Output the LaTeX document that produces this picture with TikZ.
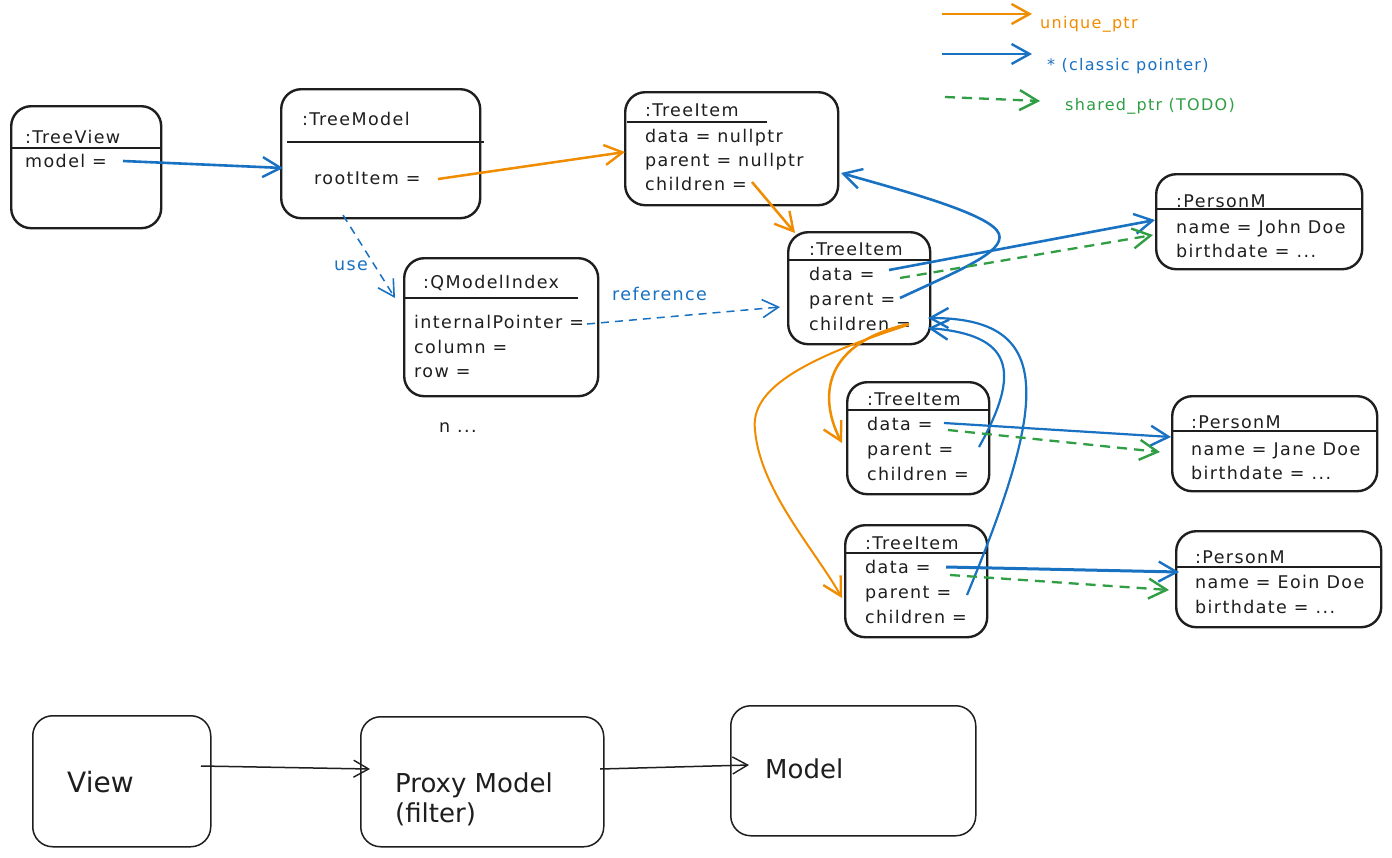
\documentclass[tikz,border=0pt]{standalone}
\usepackage{fontspec}
\usetikzlibrary{arrows.meta,calc}
\newfontfamily\hand[LetterSpace=8]{DejaVu Sans}
\newfontfamily\handbig{DejaVu Sans}
\definecolor{ink}{HTML}{1E1E1E}
\definecolor{ora}{HTML}{F08C00}
\definecolor{blu}{HTML}{1971C2}
\definecolor{grn}{HTML}{2F9E44}
\tikzset{
  box/.style={draw=ink, line width=2.4pt, rounded corners=20pt, anchor=north west, inner sep=0pt, fill=white},
  hdr/.style={draw=ink, line width=2.8pt},
  txt/.style={anchor=base west, inner sep=0pt, text=ink, font=\hand\fontsize{17.5}{20}\selectfont},
  big/.style={anchor=base west, inner sep=0pt, text=ink, font=\handbig\fontsize{26}{32}\selectfont, align=left},
  lgd/.style={anchor=base west, inner sep=0pt, font=\hand\fontsize{16}{20}\selectfont},
  tip/.style={-{Straight Barb[length=18pt,width=20pt,line width=2.4pt]}},
  orar/.style={tip, draw=ora, line width=2.5pt},
  bluar/.style={tip, draw=blu, line width=2.6pt},
  grnar/.style={tip, draw=grn, line width=2.3pt, dash pattern=on 10pt off 7pt},
  bludash/.style={-{Straight Barb[length=16pt,width=18pt,line width=1.6pt]}, draw=blu, line width=1.5pt, dash pattern=on 8pt off 6pt},
  thinar/.style={-{Straight Barb[length=15pt,width=17pt,line width=1.4pt]}, draw=ink, line width=1.5pt},
}
\begin{document}
\begin{tikzpicture}[x=1pt,y=-1pt]
\useasboundingbox[fill=white] (0,0) rectangle (1392,857);

% ---------- boxes ----------
\node[box, minimum width=150pt, minimum height=122pt] (tv) at (10,105) {};
\node[box, minimum width=199pt, minimum height=129pt] (tm) at (280,88) {};
\node[box, minimum width=213pt, minimum height=113pt] (r0) at (624,91) {};
\node[box, minimum width=142pt, minimum height=112pt] (mid) at (787,231) {};
\node[box, minimum width=206pt, minimum height=95pt] (pm1) at (1155,173) {};
\node[box, minimum width=194pt, minimum height=138pt] (qi) at (403,257) {};
\node[box, minimum width=142pt, minimum height=112pt] (c1) at (846,381) {};
\node[box, minimum width=205pt, minimum height=95pt] (pm2) at (1171,395) {};
\node[box, minimum width=142pt, minimum height=112pt] (c2) at (844,524) {};
\node[box, minimum width=205pt, minimum height=96pt] (pm3) at (1175,530) {};
\node[box, line width=1.5pt, minimum width=178pt, minimum height=131pt] (view) at (32,715) {};
\node[box, line width=1.5pt, minimum width=243pt, minimum height=130pt] (proxy) at (360,716) {};
\node[box, line width=1.5pt, minimum width=245pt, minimum height=130pt] (model) at (730,705) {};

% ---------- header lines ----------
\draw[hdr] ($(tv.north west)+(0,43)$) -- ($(tv.north east)+(0,43)$);
\draw[hdr] ($(tm.north west)+(7,54)$) -- ($(tm.north east)+(3,54)$);
\draw[hdr] ($(r0.north west)+(3,31)$) -- ($(r0.north west)+(143,31)$);
\draw[hdr] ($(mid.north west)+(0,29)$) -- ($(mid.north east)+(0,29)$);
\draw[hdr] ($(pm1.north west)+(0,36)$) -- ($(pm1.north east)+(0,36)$);
\draw[hdr] ($(qi.north west)+(0,41)$) -- ($(qi.north west)+(175,41)$);
\draw[hdr] ($(c1.north west)+(0,29)$) -- ($(c1.north east)+(0,29)$);
\draw[hdr] ($(pm2.north west)+(0,36)$) -- ($(pm2.north east)+(0,36)$);
\draw[hdr] ($(c2.north west)+(0,29)$) -- ($(c2.north east)+(0,29)$);
\draw[hdr] ($(pm3.north west)+(0,37)$) -- ($(pm3.north east)+(0,37)$);

% ---------- texts ----------
\node[txt] (tvh) at (25,143) {:TreeView};
\node[txt] (tvm) at (25,167) {model =};
\node[txt] (tmh) at (302,125) {:TreeModel};
\node[txt] (tmr) at (314,184) {rootItem =};
\node[txt] (r0h) at (645,116) {:TreeItem};
\node[txt] (r0d) at (645,142) {data = nullptr};
\node[txt] (r0p) at (645,166) {parent = nullptr};
\node[txt] (r0c) at (645,190) {children =};
\node[txt] (mih) at (809,255) {:TreeItem};
\node[txt] (mid1) at (809,280) {data =};
\node[txt] (mip) at (809,305) {parent =};
\node[txt] (mic) at (809,330) {children =};
\node[txt] (p1h) at (1176,207) {:PersonM};
\node[txt] (p1n) at (1176,233) {name = John Doe};
\node[txt] (p1b) at (1176,257) {birthdate = ...};
\node[txt] (qih) at (423,288) {:QModelIndex};
\node[txt] (qip) at (414,328) {internalPointer =};
\node[txt] (qic) at (414,353) {column =};
\node[txt] (qir) at (414,377) {row =};
\node[txt] (ndots) at (439,432) {n ...};
\node[txt] (c1h) at (867,405) {:TreeItem};
\node[txt] (c1d) at (867,430) {data =};
\node[txt] (c1p) at (867,455) {parent =};
\node[txt] (c1c) at (867,480) {children =};
\node[txt] (p2h) at (1191,428) {:PersonM};
\node[txt] (p2n) at (1191,455) {name = Jane Doe};
\node[txt] (p2b) at (1191,479) {birthdate = ...};
\node[txt] (c2h) at (865,549) {:TreeItem};
\node[txt] (c2d) at (865,573) {data =};
\node[txt] (c2p) at (865,598) {parent =};
\node[txt] (c2c) at (865,623) {children =};
\node[txt] (p3h) at (1195,563) {:PersonM};
\node[txt] (p3n) at (1195,588) {name = Eoin Doe};
\node[txt] (p3b) at (1195,613) {birthdate = ...};
\node[big] (viewt) at (67,792) {\fontsize{28}{32}\selectfont View};
\node[big] (proxyt) at (395,792) {Proxy Model};
\node[big] (proxyf) at (395,822) {(filter)};
\node[big] (modelt) at (765,778) {Model};
\node[txt, text=blu] (uselbl) at (334,270) {use};
\node[txt, text=blu] (reflbl) at (612,300) {reference};

% ---------- legend ----------
\coordinate (lo1) at (942,14);  \coordinate (lo2) at (1032,14);
\coordinate (lb1) at (942,54);  \coordinate (lb2) at (1032,54);
\coordinate (lg1) at (945,97);  \coordinate (lg2) at (1040,101);
\draw[orar] (lo1) -- (lo2);
\draw[bluar, line width=2.3pt] (lb1) -- (lb2);
\draw[grnar] (lg1) -- (lg2);
\node[lgd, text=ora] (lot) at (1040,28) {unique\_ptr};
\node[lgd, text=blu] (lbt) at (1047,70) {* (classic pointer)};
\node[lgd, text=grn] (lgt) at (1065,110) {shared\_ptr (TODO)};

% ---------- connectors ----------
\draw[bluar] ($(tv.north west)+(113,56)$) -- ($(tm.north west)+(3,80)$);
\draw[orar] ($(tm.north west)+(158,91)$) -- ($(r0.north west)+(1,61)$);
\draw[orar] ($(r0.north west)+(128,91)$) -- ($(mid.north west)+(8,2)$);
\draw[bludash] ($(tm.north west)+(63,127)$) -- ($(qi.north west)+(-8,41)$);
\draw[bludash] ($(qi.north west)+(184,67)$) -- ($(mid.north west)+(-7,76)$);
% mid parent -> root
\draw[bluar] ($(mid.north west)+(113,67)$) .. controls (960,270) and (1005,252) .. (999,234)
   .. controls (992,214) and (900,190) .. ($(r0.north west)+(217,82)$);
% mid data -> pm1
\draw[bluar] ($(mid.north west)+(102,39)$) -- ($(pm1.north west)+(0,47)$);
\draw[grnar] ($(mid.north west)+(113,47)$) -- ($(pm1.north west)+(-2,62)$);
% mid children -> c1, c2
\draw[orar] ($(mid.north west)+(122,93)$) .. controls (815,345) and (822,405) .. ($(c1.north west)+(-4,62)$);
\draw[orar, line width=2pt] ($(mid.north west)+(121,94)$) .. controls (800,360) and (750,390) .. (755,430)
   .. controls (760,490) and (815,550) .. ($(c2.north west)+(-2,74)$);
% c1, c2 parent -> mid
\draw[bluar, line width=2.2pt] ($(c1.north west)+(133,66)$) .. controls (1022,370) and (1012,335) .. ($(mid.north west)+(141,97)$);
\draw[bluar, line width=2.2pt] ($(c2.north west)+(123,71)$) .. controls (1048,400) and (1055,318) .. ($(mid.north west)+(141,87)$);
% c1, c2 data -> persons
\draw[bluar, line width=2.2pt] ($(c1.north west)+(98,42)$) -- ($(pm2.north west)+(0,42)$);
\draw[grnar] ($(c1.north west)+(102,49)$) -- ($(pm2.north west)+(-11,57)$);
\draw[bluar, line width=3pt] ($(c2.north west)+(102,43)$) -- ($(pm3.north west)+(4,42)$);
\draw[grnar] ($(c2.north west)+(106,51)$) -- ($(pm3.north west)+(-6,60)$);
% bottom
\draw[thinar] ($(view.north west)+(169,51)$) -- ($(proxy.north west)+(10,53)$);
\draw[thinar] ($(proxy.north west)+(240,53)$) -- ($(model.north west)+(19,60)$);
\end{tikzpicture}
\end{document}
